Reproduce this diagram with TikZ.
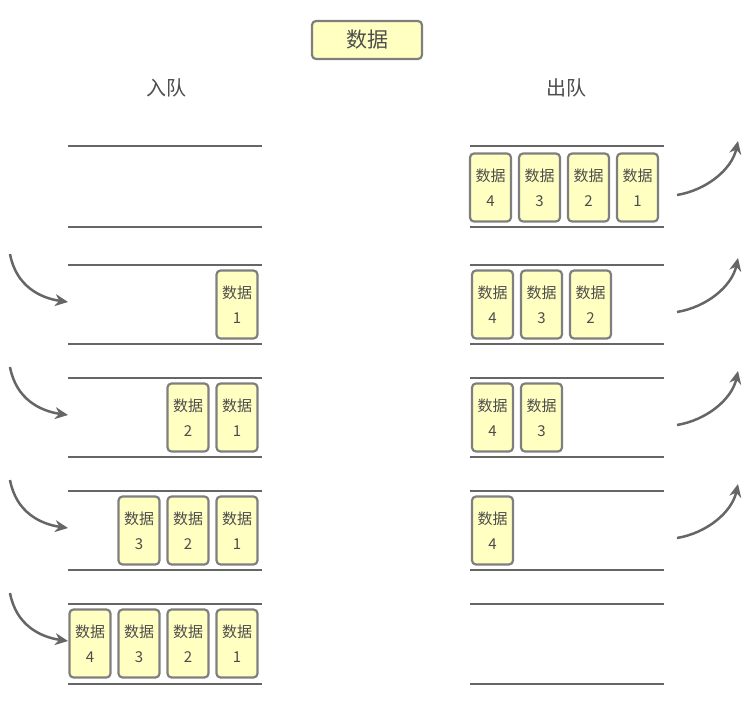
\documentclass[tikz,border=0pt]{standalone}
\usepackage{fontspec}
\newfontfamily\cjk{Noto Sans CJK SC}
\usetikzlibrary{arrows.meta}
\usepackage{xcolor}
\definecolor{boxfill}{HTML}{FFFFC2}
\definecolor{boxdraw}{HTML}{7F7F7F}
\definecolor{railgray}{HTML}{666666}
\definecolor{textgray}{HTML}{4D4D4D}

\begin{document}
\begin{tikzpicture}[x=1pt,y=-1pt]
    \tikzstyle{data}=[draw=boxdraw,fill=boxfill,rounded corners=4pt,line width=2.2pt,minimum width=41pt,minimum height=68pt,inner sep=0pt,align=center,text=textgray,font=\cjk\fontsize{15}{25}\selectfont]
    \tikzstyle{title}=[data,minimum width=110pt,minimum height=38pt,font=\cjk\fontsize{21}{24}\selectfont]
    \tikzstyle{annot}=[text=textgray,font=\cjk\fontsize{20}{22}\selectfont]
    \tikzstyle{rail}=[draw=railgray,line width=2.5pt]
    \tikzstyle{move}=[draw=railgray,line width=2.5pt,-{Stealth[length=13pt,width=12pt]}]

    \useasboundingbox (0,0) rectangle (748,705);

    % Title and column headings
    \node[title] (head) at (367,40) {数据};
    \node[annot] (enq) at (166,88) {入队};
    \node[annot] (deq) at (566,88) {出队};

    % Draw the rails of both queues
    \foreach \t/\b in {146/227,265/344,378/457,491/570,604/684}
    {
        \draw[rail] (68,\t) -- (262,\t) (68,\b) -- (262,\b);
        \draw[rail] (470,\t) -- (664,\t) (470,\b) -- (664,\b);
    }

    % Enqueue side: row r holds data 1..r
    \foreach \r in {1,...,4}
        \foreach \k in {1,...,\r}
            \node[data] (L-\r-\k) at ({237-49*(\k-1)},{304.5+113*(\r-1)}) {数据\\\k};

    % Dequeue side: row r holds data 4 down to r+1
    \foreach \k in {1,...,4}
    {
        \pgfmathtruncatemacro\num{5-\k}
        \node[data] (R-0-\k) at ({490.5+49*(\k-1)},187.5) {数据\\\num};
    }
    \foreach \r/\last in {1/3,2/2,3/1}
        \foreach \k in {1,...,\last}
        {
            \pgfmathtruncatemacro\num{5-\k}
            \node[data] (R-\r-\k) at ({492.5+49*(\k-1)},{304.5+113*(\r-1)}) {数据\\\num};
        }

    % Arrows in
    \foreach \r in {1,...,4}
    {
        \coordinate (src-\r) at (10,{254+113*(\r-1)});
        \coordinate (in-\r) at (68,{302+113*(\r-1)});
        \draw[move] (src-\r) .. controls +(6,32) and +(-28,-4) .. (in-\r);
    }

    % Arrows out
    \foreach \r/\y in {0/195,1/312,2/425,3/538}
    {
        \coordinate (out-\r) at (677,\y);
        \coordinate (dst-\r) at (738,{\y-54});
        \draw[move] (out-\r) .. controls +(30,-5) and +(-6,28) .. (dst-\r);
    }
\end{tikzpicture}
\end{document}
